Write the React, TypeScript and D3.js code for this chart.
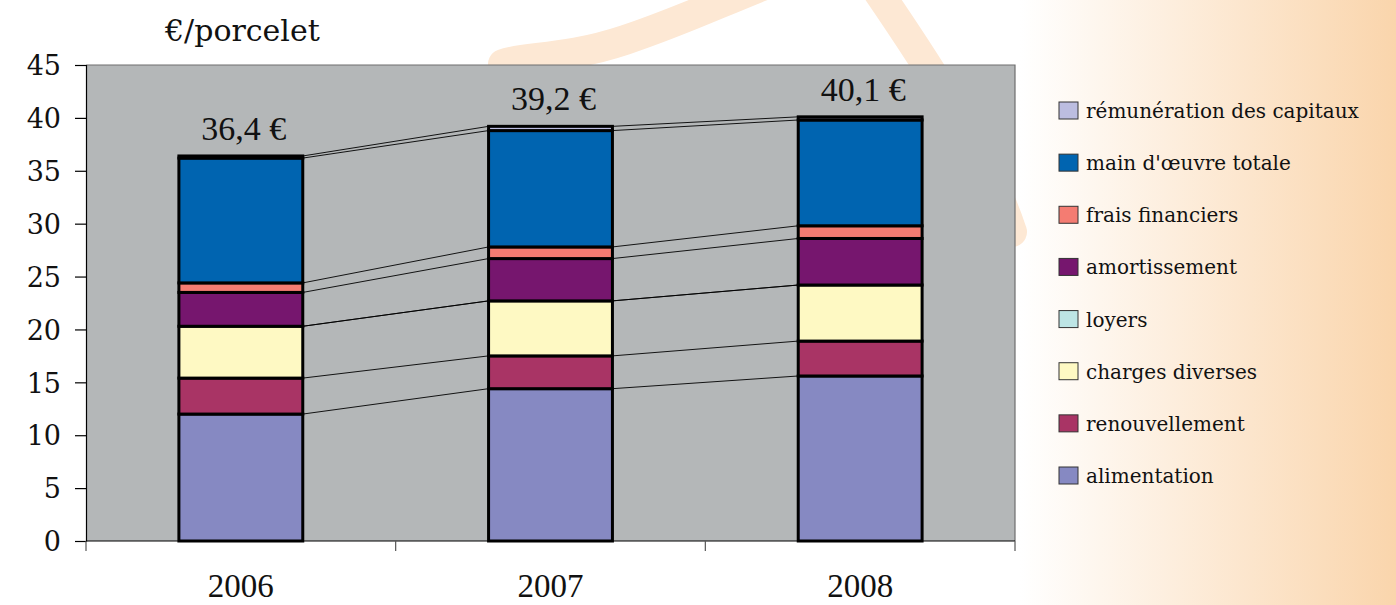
import { useEffect, useRef } from "react";
import * as d3 from "d3";

const years = ["2006", "2007", "2008"];
const totals = ["36,4 €", "39,2 €", "40,1 €"];

const series = [
  "alimentation",
  "renouvellement",
  "charges diverses",
  "loyers",
  "amortissement",
  "frais financiers",
  "main d'œuvre totale",
  "rémunération des capitaux"
];

// one array per year, same order as series
const values2006 = [12.0, 3.4, 4.9, 0, 3.2, 0.9, 11.8, 0.2];
const values2007 = [14.4, 3.1, 5.2, 0, 4.0, 1.1, 11.0, 0.4];
const values2008 = [15.6, 3.3, 5.3, 0, 4.4, 1.2, 10.0, 0.3];

const colors = ["#8689c2", "#a93465", "#fef9c3", "#bde5e5", "#76166e", "#f47c72", "#0064b0", "#bcbde0"];

const legendOrder = [...series].reverse();

const App = () => {
  const svgRef = useRef<SVGSVGElement | null>(null);

  useEffect(() => {
    const svg = d3.select(svgRef.current);
    svg.selectAll("*").remove();

    const width = 1396;
    const height = 605;
    const plot = { left: 86, right: 1015, top: 65, bottom: 541 };

    const defs = svg.append("defs");
    const grad = defs.append("linearGradient").attr("id", "bg").attr("x1", "0").attr("x2", "1");
    grad.append("stop").attr("offset", "0").attr("stop-color", "#ffffff");
    grad.append("stop").attr("offset", "1").attr("stop-color", "#fad5ac");

    svg.append("rect").attr("width", width).attr("height", height).attr("fill", "#fff");
    svg.append("rect").attr("x", 1020).attr("width", width - 1020).attr("height", height).attr("fill", "url(#bg)");

    // decorative arc behind the chart
    svg.append("path")
      .attr("d", "M 503 64 C 525 56, 565 60, 625 40 S 720 2, 790 -25")
      .attr("fill", "none").attr("stroke", "#fde8d4").attr("stroke-width", 30).attr("stroke-linecap", "round");
    svg.append("path")
      .attr("d", "M 870 -20 C 925 60, 985 150, 1012 232")
      .attr("fill", "none").attr("stroke", "#fde8d4").attr("stroke-width", 30).attr("stroke-linecap", "round");

    const x = d3.scaleBand<string>().domain(years).range([plot.left, plot.right]).paddingInner(0.6).paddingOuter(0.3);
    const y = d3.scaleLinear().domain([0, 45]).range([plot.bottom, plot.top]);

    svg.append("rect")
      .attr("x", plot.left).attr("y", plot.top)
      .attr("width", plot.right - plot.left).attr("height", plot.bottom - plot.top)
      .attr("fill", "#b4b7b8");
    svg.append("path")
      .attr("d", `M${plot.left},${plot.top}H${plot.right}V${plot.bottom}`)
      .attr("fill", "none").attr("stroke", "#6e6e6e").attr("stroke-width", 1.2);

    const table = years.map((yr, i) => {
      const vals = [values2006, values2007, values2008][i];
      let acc = 0;
      return vals.map((v, k) => {
        const y0 = acc;
        acc += v;
        return { year: yr, key: k, y0, y1: acc };
      });
    });

    // series lines between bars
    for (let i = 0; i < years.length - 1; i++) {
      const xa = (x(years[i]) ?? 0) + x.bandwidth();
      const xb = x(years[i + 1]) ?? 0;
      table[i].forEach((d, k) => {
        svg.append("line")
          .attr("x1", xa).attr("y1", y(d.y1))
          .attr("x2", xb).attr("y2", y(table[i + 1][k].y1))
          .attr("stroke", "#000").attr("stroke-width", 0.9);
      });
    }

    // bars
    table.forEach(stack => {
      svg.append("g").selectAll("rect")
        .data(stack.filter(d => d.y1 > d.y0))
        .enter()
        .append("rect")
        .attr("x", d => x(d.year) ?? 0)
        .attr("y", d => y(d.y1))
        .attr("width", x.bandwidth())
        .attr("height", d => y(d.y0) - y(d.y1))
        .attr("fill", d => colors[d.key])
        .attr("stroke", "#000")
        .attr("stroke-width", 3);
    });

    // total labels
    svg.append("g").selectAll("text")
      .data(years)
      .enter()
      .append("text")
      .attr("x", d => (x(d) ?? 0) + x.bandwidth() / 2 + 3)
      .attr("y", (d, i) => y(table[i][7].y1) - 16)
      .attr("text-anchor", "middle")
      .attr("font-family", "'Liberation Serif', serif")
      .attr("font-size", 34)
      .attr("fill", "#111")
      .text((d, i) => totals[i]);

    // y axis
    const yAxis = svg.append("g")
      .attr("transform", `translate(${plot.left},0)`)
      .call(d3.axisLeft(y).tickValues(d3.range(0, 46, 5)).tickSize(11).tickPadding(14));
    yAxis.select(".domain").attr("stroke", "#000").attr("stroke-width", 1.2);
    yAxis.selectAll(".tick line").attr("stroke", "#000").attr("stroke-width", 1.2);
    yAxis.selectAll(".tick text")
      .attr("font-family", "'DejaVu Serif', serif")
      .attr("font-size", 27)
      .attr("fill", "#111")
      .attr("dy", "0.36em");

    // x axis with ticks on category boundaries
    const xAxis = svg.append("g").attr("transform", `translate(0,${plot.bottom})`);
    xAxis.append("line").attr("x1", plot.left).attr("x2", plot.right).attr("stroke", "#000").attr("stroke-width", 1.2);
    const step = x.step();
    xAxis.selectAll("line.tk")
      .data(d3.range(0, years.length + 1))
      .enter()
      .append("line")
      .attr("class", "tk")
      .attr("x1", i => plot.left + i * step)
      .attr("x2", i => plot.left + i * step)
      .attr("y1", 0).attr("y2", 10)
      .attr("stroke", "#555").attr("stroke-width", 1.2);
    xAxis.selectAll("text")
      .data(years)
      .enter()
      .append("text")
      .attr("x", d => (x(d) ?? 0) + x.bandwidth() / 2)
      .attr("y", 56)
      .attr("text-anchor", "middle")
      .attr("font-family", "'Liberation Serif', serif")
      .attr("font-size", 33)
      .attr("fill", "#111")
      .text(d => d);

    svg.append("text")
      .attr("x", 165).attr("y", 41)
      .attr("font-family", "'DejaVu Serif', serif")
      .attr("font-size", 30)
      .attr("fill", "#111")
      .text("€/porcelet");

    // legend
    const lg = svg.append("g");
    const rowY = d3.scalePoint<string>().domain(legendOrder).range([111, 476]);
    legendOrder.forEach(name => {
      const k = series.indexOf(name);
      const cy = rowY(name) ?? 0;
      lg.append("rect")
        .attr("x", 1059).attr("y", cy - 9)
        .attr("width", 19).attr("height", 17)
        .attr("fill", colors[k])
        .attr("stroke", "#333").attr("stroke-width", 1);
      lg.append("text")
        .attr("x", 1086).attr("y", cy + 7)
        .attr("font-family", "'DejaVu Serif', serif")
        .attr("font-size", 20)
        .attr("fill", "#111")
        .text(name);
    });
  }, []);

  return (
    <svg
      ref={svgRef}
      width={1396}
      height={605}
      style={{ position: "absolute", left: 0, top: 0, display: "block" }}
    ></svg>
  );
};

export default App;
